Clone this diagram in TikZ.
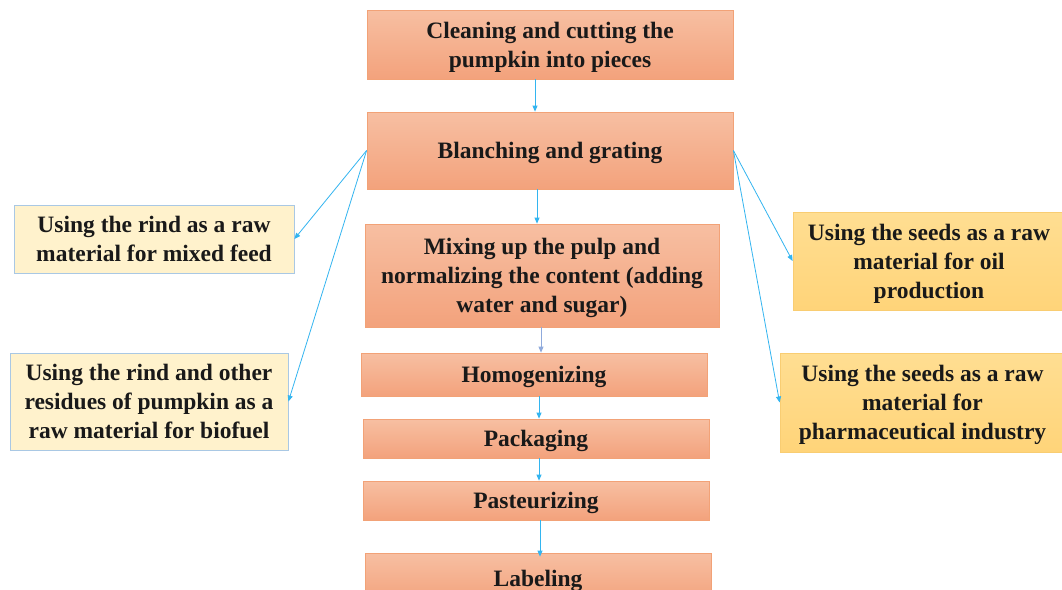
\documentclass[tikz,border=0pt]{standalone}
\usepackage{fontspec}
\setmainfont{Liberation Serif}
\usetikzlibrary{arrows.meta}
\definecolor{arrc}{HTML}{33B5F0}
\definecolor{arrg}{HTML}{8FAADC}
\definecolor{ortop}{HTML}{F7BFA2}
\definecolor{orbot}{HTML}{F3A27C}
\definecolor{ordraw}{HTML}{F2A277}
\definecolor{ylfill}{HTML}{FFF2CC}
\definecolor{yldraw}{HTML}{A9C8E4}
\definecolor{gdtop}{HTML}{FFDE92}
\definecolor{gdbot}{HTML}{FFD479}
\definecolor{gddraw}{HTML}{F9CD72}
\tikzset{
  base/.style={inner sep=0pt, align=center, text depth=0pt, font=\fontsize{23.5}{29}\selectfont\bfseries, text=black!90},
  obox/.style={base, top color=ortop, bottom color=orbot, draw=ordraw, line width=0.8pt},
  ybox/.style={base, fill=ylfill, draw=yldraw, line width=0.8pt},
  gbox/.style={base, top color=gdtop, bottom color=gdbot, draw=gddraw, line width=0.8pt},
  arr/.style={draw=arrc, line width=0.8pt, -{Triangle[length=6pt,width=5pt]}},
}
\begin{document}
\begin{tikzpicture}[x=1pt,y=-1pt]
\useasboundingbox[fill=white] (0,0) rectangle (1062,589);
\node[obox, minimum width=366pt, minimum height=69pt] (clean) at (550,44.5) {Cleaning and cutting the\\pumpkin into pieces};
\node[obox, minimum width=366pt, minimum height=77pt] (blanch) at (550,150.5) {Blanching and grating};
\node[obox, minimum width=354pt, minimum height=103pt] (mix) at (542,275.5) {Mixing up the pulp and\\normalizing the content (adding\\water and sugar)};
\node[obox, minimum width=346pt, minimum height=43pt] (homog) at (534,374.5) {Homogenizing};
\node[obox, minimum width=346pt, minimum height=39pt] (pack) at (536,438.5) {Packaging};
\node[obox, minimum width=346pt, minimum height=39pt] (past) at (536,500.5) {Pasteurizing};
\node[obox, minimum width=346pt, minimum height=50pt] (label) at (538,578) {Labeling};
\node[ybox, minimum width=280pt, minimum height=68pt] (feed) at (154,239) {Using the rind as a raw\\material for mixed feed};
\node[ybox, minimum width=278pt, minimum height=97pt] (fuel) at (149,401.5) {Using the rind and other\\residues of pumpkin as a\\raw material for biofuel};
\node[gbox, minimum width=272pt, minimum height=98pt] (oil) at (929,261) {Using the seeds as a raw\\material for oil\\production};
\node[gbox, minimum width=285pt, minimum height=99pt] (pharma) at (922.5,402.5) {Using the seeds as a raw\\material for\\pharmaceutical industry};
\draw[arr] ([xshift=-15pt]clean.south) -- ([xshift=-15pt]blanch.north);
\draw[arr] ([xshift=-13pt]blanch.south) -- ([xshift=-5pt]mix.north);
\draw[arr, draw=arrg] ([xshift=-1pt]mix.south) -- ([xshift=7pt]homog.north);
\draw[arr] ([xshift=5pt]homog.south) -- ([xshift=3pt]pack.north);
\draw[arr] ([xshift=3pt]pack.south) -- ([xshift=3pt]past.north);
\draw[arr] ([xshift=4pt]past.south) -- ([xshift=2pt,yshift=-4pt]label.north);
\draw[arr] (blanch.west) -- (feed.east);
\draw[arr] (blanch.west) -- (fuel.east);
\draw[arr] (blanch.east) -- (oil.west);
\draw[arr] (blanch.east) -- (pharma.west);
\end{tikzpicture}
\end{document}
